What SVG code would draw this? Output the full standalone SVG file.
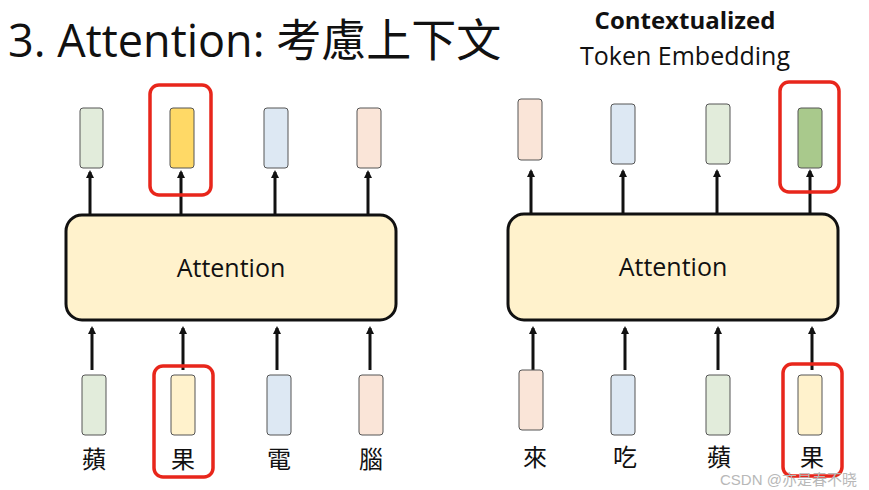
<svg xmlns="http://www.w3.org/2000/svg" width="869" height="490" viewBox="0 0 869 490">
<style>
text{font-family:"Open Sans","Noto Sans","Noto Sans CJK TC",sans-serif;fill:#111}
.v{stroke:#555;stroke-width:1}
.g{fill:#e2ecdb}.y{fill:#fff2cc}.b{fill:#dde8f3}.p{fill:#fae5d8}
.red{fill:none;stroke:#e8261b;stroke-width:3.5}
.att{fill:#fff2cc;stroke:#111;stroke-width:3}
.ar{stroke:#111;stroke-width:3;marker-end:url(#m)}
.c{font-size:24px;text-anchor:middle}
</style>
<defs><marker id="m" markerWidth="8" markerHeight="8" refX="6" refY="4" orient="auto" markerUnits="userSpaceOnUse"><path d="M0,0 L8,4 L0,8z" fill="#111"/></marker></defs>
<rect width="869" height="490" fill="#fff"/>
<text x="8" y="57" font-size="45">3. Attention: 考慮上下文</text>
<text x="685" y="29" font-size="24" font-weight="bold" text-anchor="middle">Contextualized</text>
<text x="685" y="65" font-size="25" text-anchor="middle">Token Embedding</text>
<g id="connectors">
<line class="ar" x1="90" y1="215" x2="90" y2="172"/><line class="ar" x1="181" y1="215" x2="181" y2="172"/><line class="ar" x1="275" y1="215" x2="275" y2="172"/><line class="ar" x1="368" y1="215" x2="368" y2="172"/>
<line class="ar" x1="92" y1="370" x2="92" y2="328"/><line class="ar" x1="183" y1="370" x2="183" y2="328"/><line class="ar" x1="277" y1="370" x2="277" y2="328"/><line class="ar" x1="370" y1="370" x2="370" y2="328"/>
<line class="ar" x1="531" y1="214" x2="531" y2="171"/><line class="ar" x1="623" y1="214" x2="623" y2="171"/><line class="ar" x1="717" y1="214" x2="717" y2="171"/><line class="ar" x1="810" y1="214" x2="810" y2="171"/>
<line class="ar" x1="533" y1="370" x2="533" y2="328"/><line class="ar" x1="625" y1="370" x2="625" y2="328"/><line class="ar" x1="718" y1="370" x2="718" y2="328"/><line class="ar" x1="812" y1="370" x2="812" y2="328"/>
</g>
<g id="left-attention"><rect class="att" x="66" y="215" width="330" height="105" rx="16"/><text x="231" y="277" font-size="25" text-anchor="middle">Attention</text></g>
<g id="left-out">
<rect class="v g" x="80" y="108" width="23" height="60" rx="3"/><rect class="v" fill="#ffd966" x="170" y="108" width="24" height="60" rx="3"/><rect class="v b" x="264" y="108" width="24" height="60" rx="3"/><rect class="v p" x="357" y="108" width="24" height="60" rx="3"/>
<rect class="red" x="150" y="85" width="61" height="110" rx="9"/>
</g>
<g id="left-in">
<rect class="v g" x="82" y="375" width="24" height="60" rx="3"/><rect class="v y" x="171" y="375" width="24" height="60" rx="3"/><rect class="v b" x="267" y="375" width="24" height="60" rx="3"/><rect class="v p" x="359" y="375" width="24" height="60" rx="3"/>
<text class="c" x="94" y="468">蘋</text><text class="c" x="183" y="468">果</text><text class="c" x="279" y="468">電</text><text class="c" x="371" y="468">腦</text>
<rect class="red" x="154" y="366" width="59" height="111" rx="9"/>
</g>
<g id="right-attention"><rect class="att" x="508" y="214" width="330" height="106" rx="16"/><text x="673" y="276" font-size="25" text-anchor="middle">Attention</text></g>
<g id="right-out">
<rect class="v p" x="518" y="99" width="24" height="61" rx="3"/><rect class="v b" x="611" y="104" width="24" height="60" rx="3"/><rect class="v g" x="706" y="104" width="24" height="60" rx="3"/><rect class="v" fill="#a9c98c" x="798" y="108" width="24" height="60" rx="3"/>
<rect class="red" x="780" y="82" width="59" height="110" rx="9"/>
</g>
<g id="right-in">
<rect class="v p" x="519" y="370" width="24" height="60" rx="3"/><rect class="v b" x="611" y="375" width="24" height="60" rx="3"/><rect class="v g" x="706" y="375" width="24" height="60" rx="3"/><rect class="v y" x="798" y="375" width="24" height="60" rx="3"/>
<text class="c" x="535" y="466">來</text><text class="c" x="625" y="466">吃</text><text class="c" x="719" y="466">蘋</text><text class="c" x="812" y="466">果</text>
<rect class="red" x="783" y="364" width="59" height="112" rx="9"/>
</g>
<text x="720" y="485" font-size="15" style="fill:#b8b8b8;font-family:'Liberation Sans','Noto Sans CJK SC',sans-serif">CSDN @亦是春不晓</text>
</svg>
